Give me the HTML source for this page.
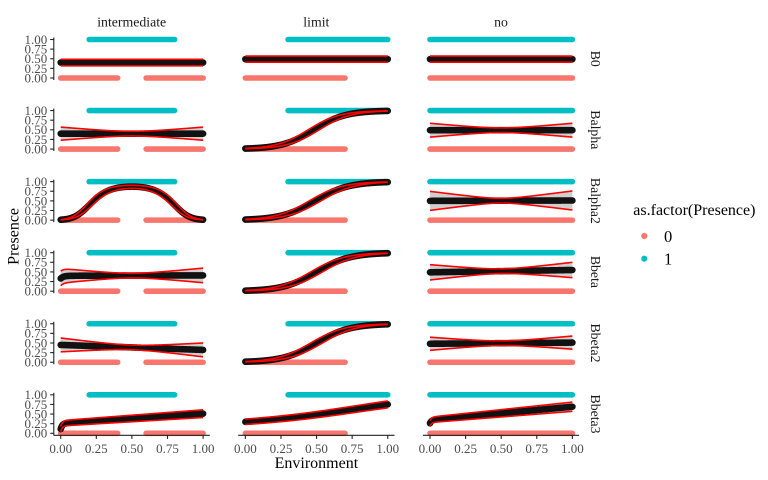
<!DOCTYPE html>
<html><head><meta charset="utf-8"><style>
html,body{margin:0;padding:0;background:#fff;}
svg{display:block;font-family:"Liberation Serif",serif;}
</style></head><body>
<svg id="s" width="768" height="480" viewBox="0 0 768 480" xmlns="http://www.w3.org/2000/svg">
<rect width="768" height="480" fill="#fff"/>
<g id="data"></g>

<!-- y axes + labels per row -->
<g id="yaxis">
<g id="yrow0">
<line x1="53.8" y1="37.5" x2="53.8" y2="80" stroke="#222" stroke-width="1.1"/>
<g stroke="#222" stroke-width="1.1">
<line x1="50.2" y1="39.5" x2="53.8" y2="39.5"/>
<line x1="50.2" y1="49.125" x2="53.8" y2="49.125"/>
<line x1="50.2" y1="58.75" x2="53.8" y2="58.75"/>
<line x1="50.2" y1="68.375" x2="53.8" y2="68.375"/>
<line x1="50.2" y1="78" x2="53.8" y2="78"/>
</g>
<g font-size="13" fill="#4d4d4d" text-anchor="end">
<text x="47.3" y="43.9">1.00</text>
<text x="47.3" y="53.5">0.75</text>
<text x="47.3" y="63.2">0.50</text>
<text x="47.3" y="72.8">0.25</text>
<text x="47.3" y="82.4">0.00</text>
</g>
</g>
</g>
<g transform="translate(0,71.06)"><line x1="53.8" y1="37.5" x2="53.8" y2="80" stroke="#222" stroke-width="1.1"/><g stroke="#222" stroke-width="1.1"><line x1="50.2" y1="39.5" x2="53.8" y2="39.5"/><line x1="50.2" y1="49.125" x2="53.8" y2="49.125"/><line x1="50.2" y1="58.75" x2="53.8" y2="58.75"/><line x1="50.2" y1="68.375" x2="53.8" y2="68.375"/><line x1="50.2" y1="78" x2="53.8" y2="78"/></g><g font-size="13" fill="#4d4d4d" text-anchor="end"><text x="47.3" y="43.9">1.00</text><text x="47.3" y="53.5">0.75</text><text x="47.3" y="63.2">0.50</text><text x="47.3" y="72.8">0.25</text><text x="47.3" y="82.4">0.00</text></g></g>
<g transform="translate(0,142.12)"><line x1="53.8" y1="37.5" x2="53.8" y2="80" stroke="#222" stroke-width="1.1"/><g stroke="#222" stroke-width="1.1"><line x1="50.2" y1="39.5" x2="53.8" y2="39.5"/><line x1="50.2" y1="49.125" x2="53.8" y2="49.125"/><line x1="50.2" y1="58.75" x2="53.8" y2="58.75"/><line x1="50.2" y1="68.375" x2="53.8" y2="68.375"/><line x1="50.2" y1="78" x2="53.8" y2="78"/></g><g font-size="13" fill="#4d4d4d" text-anchor="end"><text x="47.3" y="43.9">1.00</text><text x="47.3" y="53.5">0.75</text><text x="47.3" y="63.2">0.50</text><text x="47.3" y="72.8">0.25</text><text x="47.3" y="82.4">0.00</text></g></g>
<g transform="translate(0,213.18)"><line x1="53.8" y1="37.5" x2="53.8" y2="80" stroke="#222" stroke-width="1.1"/><g stroke="#222" stroke-width="1.1"><line x1="50.2" y1="39.5" x2="53.8" y2="39.5"/><line x1="50.2" y1="49.125" x2="53.8" y2="49.125"/><line x1="50.2" y1="58.75" x2="53.8" y2="58.75"/><line x1="50.2" y1="68.375" x2="53.8" y2="68.375"/><line x1="50.2" y1="78" x2="53.8" y2="78"/></g><g font-size="13" fill="#4d4d4d" text-anchor="end"><text x="47.3" y="43.9">1.00</text><text x="47.3" y="53.5">0.75</text><text x="47.3" y="63.2">0.50</text><text x="47.3" y="72.8">0.25</text><text x="47.3" y="82.4">0.00</text></g></g>
<g transform="translate(0,284.24)"><line x1="53.8" y1="37.5" x2="53.8" y2="80" stroke="#222" stroke-width="1.1"/><g stroke="#222" stroke-width="1.1"><line x1="50.2" y1="39.5" x2="53.8" y2="39.5"/><line x1="50.2" y1="49.125" x2="53.8" y2="49.125"/><line x1="50.2" y1="58.75" x2="53.8" y2="58.75"/><line x1="50.2" y1="68.375" x2="53.8" y2="68.375"/><line x1="50.2" y1="78" x2="53.8" y2="78"/></g><g font-size="13" fill="#4d4d4d" text-anchor="end"><text x="47.3" y="43.9">1.00</text><text x="47.3" y="53.5">0.75</text><text x="47.3" y="63.2">0.50</text><text x="47.3" y="72.8">0.25</text><text x="47.3" y="82.4">0.00</text></g></g>
<g transform="translate(0,355.3)"><line x1="53.8" y1="37.5" x2="53.8" y2="80" stroke="#222" stroke-width="1.1"/><g stroke="#222" stroke-width="1.1"><line x1="50.2" y1="39.5" x2="53.8" y2="39.5"/><line x1="50.2" y1="49.125" x2="53.8" y2="49.125"/><line x1="50.2" y1="58.75" x2="53.8" y2="58.75"/><line x1="50.2" y1="68.375" x2="53.8" y2="68.375"/><line x1="50.2" y1="78" x2="53.8" y2="78"/></g><g font-size="13" fill="#4d4d4d" text-anchor="end"><text x="47.3" y="43.9">1.00</text><text x="47.3" y="53.5">0.75</text><text x="47.3" y="63.2">0.50</text><text x="47.3" y="72.8">0.25</text><text x="47.3" y="82.4">0.00</text></g></g>

<!-- x axes per column -->
<g><line x1="53.6" y1="435.3" x2="209.8" y2="435.3" stroke="#222" stroke-width="1.1"/><g stroke="#222" stroke-width="1.1"><line x1="60.7" y1="435.3" x2="60.7" y2="438.9"/><line x1="96.3" y1="435.3" x2="96.3" y2="438.9"/><line x1="131.9" y1="435.3" x2="131.9" y2="438.9"/><line x1="167.5" y1="435.3" x2="167.5" y2="438.9"/><line x1="203.1" y1="435.3" x2="203.1" y2="438.9"/></g><g font-size="13" fill="#4d4d4d" text-anchor="middle"><text x="60.7" y="453">0.00</text><text x="96.3" y="453">0.25</text><text x="131.9" y="453">0.50</text><text x="167.5" y="453">0.75</text><text x="203.1" y="453">1.00</text></g></g>
<g transform="translate(184.65,0)"><line x1="53.6" y1="435.3" x2="209.8" y2="435.3" stroke="#222" stroke-width="1.1"/><g stroke="#222" stroke-width="1.1"><line x1="60.7" y1="435.3" x2="60.7" y2="438.9"/><line x1="96.3" y1="435.3" x2="96.3" y2="438.9"/><line x1="131.9" y1="435.3" x2="131.9" y2="438.9"/><line x1="167.5" y1="435.3" x2="167.5" y2="438.9"/><line x1="203.1" y1="435.3" x2="203.1" y2="438.9"/></g><g font-size="13" fill="#4d4d4d" text-anchor="middle"><text x="60.7" y="453">0.00</text><text x="96.3" y="453">0.25</text><text x="131.9" y="453">0.50</text><text x="167.5" y="453">0.75</text><text x="203.1" y="453">1.00</text></g></g>
<g transform="translate(369.3,0)"><line x1="53.6" y1="435.3" x2="209.8" y2="435.3" stroke="#222" stroke-width="1.1"/><g stroke="#222" stroke-width="1.1"><line x1="60.7" y1="435.3" x2="60.7" y2="438.9"/><line x1="96.3" y1="435.3" x2="96.3" y2="438.9"/><line x1="131.9" y1="435.3" x2="131.9" y2="438.9"/><line x1="167.5" y1="435.3" x2="167.5" y2="438.9"/><line x1="203.1" y1="435.3" x2="203.1" y2="438.9"/></g><g font-size="13" fill="#4d4d4d" text-anchor="middle"><text x="60.7" y="453">0.00</text><text x="96.3" y="453">0.25</text><text x="131.9" y="453">0.50</text><text x="167.5" y="453">0.75</text><text x="203.1" y="453">1.00</text></g></g>

<!-- strip labels -->
<g font-size="13.8" fill="#1a1a1a" text-anchor="middle">
<text x="131.7" y="26.5">intermediate</text>
<text x="316.35" y="26.5">limit</text>
<text x="501.0" y="26.5">no</text>
<text transform="translate(591,58.75) rotate(90)">B0</text>
<text transform="translate(591,129.81) rotate(90)">Balpha</text>
<text transform="translate(591,200.87) rotate(90)">Balpha2</text>
<text transform="translate(591,271.93) rotate(90)">Bbeta</text>
<text transform="translate(591,342.99) rotate(90)">Bbeta2</text>
<text transform="translate(591,414.05) rotate(90)">Bbeta3</text>
</g>

<!-- axis titles -->
<text transform="translate(18.5,236.4) rotate(-90)" text-anchor="middle" font-size="16" fill="#000">Presence</text>
<text x="316.4" y="468" text-anchor="middle" font-size="16" fill="#000">Environment</text>

<!-- legend -->
<text x="633.3" y="214.8" font-size="16" fill="#000">as.factor(Presence)</text>
<circle cx="644.3" cy="236" r="3.1" fill="#F8766D"/>
<circle cx="644.3" cy="258.7" r="3.1" fill="#00BFC4"/>
<text x="664" y="241.8" font-size="16.5" fill="#000">0</text>
<text x="664" y="264.5" font-size="16.5" fill="#000">1</text>
</svg>
<script>
(function(){
const NS="http://www.w3.org/2000/svg";
const g=document.getElementById('data');
const L=z=>1/(1+Math.exp(-z));
const XS=142.4, YS=38.5;
const X=(c,x)=>60.7+184.65*c+XS*x;
const Y=(r,v)=>78+71.06*r-YS*v;
function el(tag,a){const e=document.createElementNS(NS,tag);for(const k in a)e.setAttribute(k,a[k]);g.appendChild(e);return e;}
const SAL="#F8766D", TEA="#00BFC4";
const pts=[
  {s:[[0,0.4],[0.6,1]], t:[[0.2,0.8]]},
  {s:[[0,0.7]], t:[[0.3,1]]},
  {s:[[0,1]], t:[[0,1]]}
];
for(let r=0;r<6;r++){
  for(let c=0;c<3;c++){
    for(const [a,b] of pts[c].s) el('line',{x1:X(c,a),y1:Y(r,0),x2:X(c,b),y2:Y(r,0),stroke:SAL,'stroke-width':5.6,'stroke-linecap':'round'});
    for(const [a,b] of pts[c].t) el('line',{x1:X(c,a),y1:Y(r,1),x2:X(c,b),y2:Y(r,1),stroke:TEA,'stroke-width':5.6,'stroke-linecap':'round'});
  }
}
const H=Math.hypot;
const cells=[
 [ {m:x=>0.40,h:x=>0.085}, {m:x=>0.49,h:x=>0.08}, {m:x=>0.49,h:x=>0.08} ],
 [ {m:x=>0.40,h:x=>H(0.06,0.32*(x-0.5))}, {z:x=>9*(x-0.48),s:x=>0.35}, {m:x=>0.49,h:x=>H(0.06,0.34*(x-0.5))} ],
 [ {z:x=>1.9-26*(x-0.5)*(x-0.5),s:x=>0.35}, {z:x=>8.5*(x-0.49),s:x=>0.35}, {m:x=>0.5+0.01*x,h:x=>H(0.06,0.48*(x-0.5))} ],
 [ {m:x=>0.40+0.01*x-0.07*Math.exp(-x/0.02),h:x=>H(0.06,0.36*(x-0.5))}, {z:x=>8.5*(x-0.5),s:x=>0.35}, {m:x=>0.49+0.06*x,h:x=>H(0.06,0.38*(x-0.5))} ],
 [ {m:x=>0.45-0.13*x,h:x=>H(0.06,0.34*(x-0.5))}, {z:x=>8.5*(x-0.5),s:x=>0.35}, {m:x=>0.48+0.03*x,h:x=>H(0.06,0.32*(x-0.5))} ],
 [ {m:x=>0.26+0.25*x-0.15*Math.exp(-x/0.012),h:x=>0.07+0.03*x}, {z:x=>-0.85+1.2*x+0.75*x*x,h:x=>0.07+0.02*x}, {m:x=>0.35+0.34*x-0.09*Math.exp(-x/0.012),h:x=>0.07+0.05*x} ]
];
const N=400;
for(let r=0;r<6;r++){
  for(let c=0;c<3;c++){
    const cl=cells[r][c];
    const M=[],LO=[],HI=[];
    for(let i=0;i<=N;i++){
      const x=i/N;
      let m,lo,hi;
      if(cl.z){const z=cl.z(x);m=L(z);
        if(cl.s){lo=L(z-cl.s(x));hi=L(z+cl.s(x));}
        else {lo=m-cl.h(x);hi=m+cl.h(x);}
      } else {m=cl.m(x);lo=m-cl.h(x);hi=m+cl.h(x);}
      M.push([X(c,x),Y(r,m)]);LO.push([X(c,x),Y(r,lo)]);HI.push([X(c,x),Y(r,hi)]);
    }
    const f=a=>a.map((p,i)=>(i?'L':'M')+p[0].toFixed(2)+' '+p[1].toFixed(2)).join('');
    const rib=f(HI)+LO.slice().reverse().map(p=>'L'+p[0].toFixed(2)+' '+p[1].toFixed(2)).join('')+'Z';
    el('path',{d:rib,fill:'#cfcfcf',stroke:'none'});
    el('path',{d:f(M),fill:'none',stroke:'#111','stroke-width':6.6,'stroke-linecap':'round','stroke-linejoin':'round'});
    el('path',{d:f(LO),fill:'none',stroke:'#ff0000','stroke-width':1.6});
    el('path',{d:f(HI),fill:'none',stroke:'#ff0000','stroke-width':1.6});
  }
}
})();
</script>
</body></html>
